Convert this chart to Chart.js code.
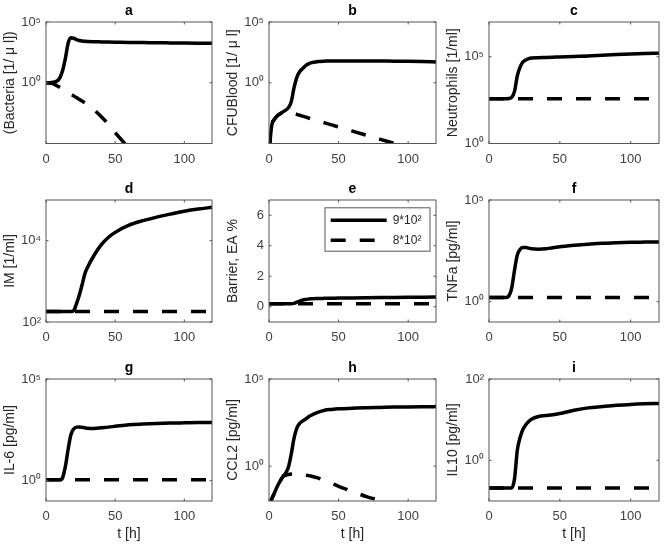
<!DOCTYPE html>
<html>
<head>
<meta charset="utf-8">
<script src="https://cdn.jsdelivr.net/npm/chart.js@4.4.0/dist/chart.umd.min.js"></script>
<style>
  html, body { margin: 0; padding: 0; background: #fff; }
  #figure { position: relative; width: 666px; height: 546px; }
  #figure canvas { position: absolute; }
</style>
</head>
<body>
<div id="figure">
  <canvas id="pa" width="222" height="178" style="left:0px;top:0px"></canvas>
  <canvas id="pb" width="222" height="178" style="left:223px;top:0px"></canvas>
  <canvas id="pc" width="222" height="178" style="left:443px;top:0px"></canvas>
  <canvas id="pd" width="222" height="178" style="left:0px;top:178px"></canvas>
  <canvas id="pe" width="222" height="178" style="left:223px;top:178px"></canvas>
  <canvas id="pf" width="222" height="178" style="left:443px;top:178px"></canvas>
  <canvas id="pg" width="222" height="189" style="left:0px;top:357px"></canvas>
  <canvas id="ph" width="222" height="189" style="left:223px;top:357px"></canvas>
  <canvas id="pi" width="222" height="189" style="left:443px;top:357px"></canvas>
</div>
<script>
// time points (hours)
const hours = [0, 2, 4, 6, 8, 10, 12, 14, 16, 18, 20, 22, 24, 26, 28, 30, 35, 40, 45, 50, 60, 70, 80, 90, 100, 110, 120];

const seriesLabels = ['9*10\u00b2', '8*10\u00b2'];

// a - bacteria
const bacteriaHigh = [1, 1, 1.05, 1.15, 1.4, 2.5, 10, 100, 1800, 5000, 4600, 3600, 3000, 2700, 2550, 2450, 2350, 2300, 2250, 2200, 2100, 2050, 1950, 1900, 1850, 1800, 1750];
const bacteriaLow = [1, 0.95, 0.89, 0.74, 0.56, 0.42, 0.30, 0.22, 0.16, 0.115, 0.083, 0.060, 0.044, 0.032, 0.023, 0.017, 5.6e-3, 1.6e-3, 4.0e-4, 7.9e-5, 4.0e-6, 2.0e-7, 1.0e-8, 5.0e-10, 2.5e-11, 1.3e-12, 6.3e-14];
// b - CFU blood
const cfuHigh = [2e-6, 3.2e-4, 1e-3, 1.9e-3, 2.8e-3, 4e-3, 5.6e-3, 8.9e-3, 0.028, 0.4, 2.8, 8, 14, 24, 34, 43, 55, 60, 63, 63, 63, 63, 61, 60, 58, 55, 51];
const cfuLow = [2e-6, 3.2e-4, 1e-3, 1.9e-3, 2.8e-3, 3.8e-3, 4.2e-3, 4e-3, 3.4e-3, 2.9e-3, 2.5e-3, 2.1e-3, 1.8e-3, 1.55e-3, 1.3e-3, 1.1e-3, 7.6e-4, 5e-4, 3.4e-4, 2.3e-4, 1.05e-4, 4.8e-5, 2.2e-5, 1e-5, 4.6e-6, 2.1e-6, 9.5e-7];
// c - neutrophils
const neutroHigh = [380, 380, 380, 380, 380, 380, 380, 390, 450, 1000, 8000, 2.6e4, 5e4, 6.5e4, 7.8e4, 8.5e4, 8.8e4, 9.1e4, 9.4e4, 9.7e4, 1.04e5, 1.1e5, 1.22e5, 1.35e5, 1.45e5, 1.53e5, 1.6e5];
const neutroLow = [380, 380, 380, 380, 380, 380, 380, 380, 380, 380, 380, 380, 380, 380, 380, 380, 380, 380, 380, 380, 380, 380, 380, 380, 380, 380, 380];
// d - IM
const imHigh = [180, 180, 180, 180, 180, 180, 180, 180, 180, 180, 190, 280, 450, 800, 1500, 2200, 4500, 8000, 1.2e4, 1.6e4, 2.4e4, 3.1e4, 3.8e4, 4.5e4, 5.3e4, 6e4, 6.6e4];
const imLow = [180, 180, 180, 180, 180, 180, 180, 180, 180, 180, 180, 180, 180, 180, 180, 180, 180, 180, 180, 180, 180, 180, 180, 180, 180, 180, 180];
// e - barrier
const barrierHigh = [0.2, 0.2, 0.2, 0.2, 0.2, 0.2, 0.2, 0.2, 0.2, 0.22, 0.3, 0.37, 0.43, 0.47, 0.5, 0.52, 0.54, 0.55, 0.56, 0.57, 0.58, 0.59, 0.6, 0.61, 0.62, 0.63, 0.64];
const barrierLow = [0.2, 0.2, 0.2, 0.2, 0.2, 0.2, 0.2, 0.2, 0.2, 0.2, 0.2, 0.2, 0.2, 0.2, 0.2, 0.2, 0.2, 0.2, 0.2, 0.2, 0.2, 0.2, 0.2, 0.2, 0.2, 0.2, 0.2];
// f - TNFa
const tnfHigh = [1.6, 1.6, 1.6, 1.6, 1.6, 1.6, 1.6, 1.9, 4.5, 35, 200, 380, 460, 460, 430, 400, 380, 400, 450, 500, 600, 670, 740, 790, 830, 850, 870];
const tnfLow = [1.6, 1.6, 1.6, 1.6, 1.6, 1.6, 1.6, 1.6, 1.6, 1.6, 1.6, 1.6, 1.6, 1.6, 1.6, 1.6, 1.6, 1.6, 1.6, 1.6, 1.6, 1.6, 1.6, 1.6, 1.6, 1.6, 1.6];
// g - IL-6
const il6High = [1.1, 1.1, 1.1, 1.1, 1.1, 1.1, 1.4, 5, 35, 180, 350, 430, 440, 420, 400, 380, 370, 400, 430, 470, 560, 610, 650, 680, 700, 720, 730];
const il6Low = [1.1, 1.1, 1.1, 1.1, 1.1, 1.1, 1.1, 1.1, 1.1, 1.1, 1.1, 1.1, 1.1, 1.1, 1.1, 1.1, 1.1, 1.1, 1.1, 1.1, 1.1, 1.1, 1.1, 1.1, 1.1, 1.1, 1.1];
// h - CCL2
const ccl2High = [4e-3, 0.013, 0.03, 0.07, 0.14, 0.25, 0.4, 0.9, 5, 40, 150, 280, 380, 480, 640, 800, 1200, 1600, 1800, 1950, 2100, 2250, 2350, 2450, 2500, 2550, 2600];
const ccl2Low = [4e-3, 0.013, 0.03, 0.07, 0.14, 0.25, 0.3, 0.33, 0.35, 0.36, 0.36, 0.35, 0.33, 0.31, 0.29, 0.27, 0.21, 0.15, 0.105, 0.07, 0.035, 0.018, 0.0105, 5.5e-3, 2.8e-3, 1.4e-3, 7e-4];
// i - IL10
const il10High = [0.21, 0.21, 0.21, 0.21, 0.21, 0.21, 0.21, 0.21, 0.21, 0.35, 1.8, 3.7, 5.8, 7.5, 9, 10.3, 12, 12.6, 13.2, 14.2, 17, 19.5, 21, 22.5, 23.7, 24.5, 25];
const il10Low = [0.21, 0.21, 0.21, 0.21, 0.21, 0.21, 0.21, 0.21, 0.21, 0.21, 0.21, 0.21, 0.21, 0.21, 0.21, 0.21, 0.21, 0.21, 0.21, 0.21, 0.21, 0.21, 0.21, 0.21, 0.21, 0.21, 0.21];

// tick labels
const xTicks = [0, 50, 100];
const logTicks05 = [1, 1e5];
const logTicks24 = [1e2, 1e4];
const logTicks02 = [1, 1e2];
const barrierTicks = [0, 2, 4, 6];

const panelLetters = ['a', 'b', 'c', 'd', 'e', 'f', 'g', 'h', 'i'];
const yLabels = ['(Bacteria [1/ \u03bc l])', 'CFUBlood [1/ \u03bc l]', 'Neutrophils [1/ml]', 'IM [1/ml]',
  'Barrier, EA %', 'TNFa [pg/ml]', 'IL-6 [pg/ml]', 'CCL2 [pg/ml]', 'IL10 [pg/ml]'];

const panels = [
  {id: 'pa', high: bacteriaHigh, low: bacteriaLow, log: true, min: 1e-5, max: 1e5, yTicks: logTicks05, xh: 34.5, pr: 10},
  {id: 'pb', high: cfuHigh, low: cfuLow, log: true, min: 1e-5, max: 1e5, yTicks: logTicks05, xh: 34.5, pr: 9},
  {id: 'pc', high: neutroHigh, low: neutroLow, log: true, min: 1, max: 1e7, yTicks: logTicks05, xh: 34.5, pr: 6},
  {id: 'pd', high: imHigh, low: imLow, log: true, min: 1e2, max: 1e5, yTicks: logTicks24, xh: 34, pr: 10},
  {id: 'pe', high: barrierHigh, low: barrierLow, log: false, min: -1, max: 7, yTicks: barrierTicks, xh: 34, pr: 9, legend: true},
  {id: 'pf', high: tnfHigh, low: tnfLow, log: true, min: 0.1, max: 1e5, yTicks: logTicks05, xh: 34, pr: 6},
  {id: 'pg', high: il6High, low: il6Low, log: true, min: 0.1, max: 1e5, yTicks: logTicks05, xh: 45, pr: 10, bottom: true},
  {id: 'ph', high: ccl2High, low: ccl2Low, log: true, min: 1e-2, max: 1e5, yTicks: logTicks05, xh: 45, pr: 9, bottom: true},
  {id: 'pi', high: il10High, low: il10Low, log: true, min: 0.1, max: 1e2, yTicks: logTicks02, xh: 45, pr: 6, bottom: true}
];

const SUP = {'0': '\u2070', '1': '\u00b9', '2': '\u00b2', '3': '\u00b3', '4': '\u2074', '5': '\u2075',
  '6': '\u2076', '7': '\u2077', '8': '\u2078', '9': '\u2079', '-': '\u207b'};
function powLabel(v) {
  const e = String(Math.round(Math.log10(v)));
  return '10' + e.split('').map(c => SUP[c]).join('');
}

Chart.defaults.font.family = '"Liberation Sans", Arial, Helvetica, sans-serif';
Chart.defaults.color = '#404040';

// box round the axes, inward tick marks, legend frame
const framePlugin = {
  id: 'frame',
  afterLayout(chart) {
    if (!chart.options.plugins.legend.display) return;
    const a = chart.chartArea;
    chart.legend.left = a.left + 53.7;
    chart.legend.top = a.top + 6.2;
  },
  afterDraw(chart) {
    const {ctx, chartArea: a, scales} = chart;
    ctx.save();
    ctx.strokeStyle = '#555';
    ctx.lineWidth = 1;
    ctx.setLineDash([]);
    ctx.strokeRect(a.left, a.top, a.right - a.left, a.bottom - a.top);
    ctx.beginPath();
    scales.x.ticks.forEach(t => {
      const px = scales.x.getPixelForValue(t.value);
      ctx.moveTo(px, a.bottom); ctx.lineTo(px, a.bottom - 2.5);
      ctx.moveTo(px, a.top); ctx.lineTo(px, a.top + 2.5);
    });
    scales.y.ticks.forEach(t => {
      const py = scales.y.getPixelForValue(t.value);
      ctx.moveTo(a.left, py); ctx.lineTo(a.left + 2.5, py);
      ctx.moveTo(a.right, py); ctx.lineTo(a.right - 2.5, py);
    });
    ctx.stroke();
    if (chart.options.plugins.legend.display) {
      const lg = chart.legend;
      ctx.strokeRect(lg.left + 2.3, lg.top + 1.6, 105, 43.4);
    }
    ctx.restore();
  }
};

// legend items with the dataset's own dash pattern
function lineLegendLabels(chart) {
  const items = Chart.defaults.plugins.legend.labels.generateLabels(chart);
  items.forEach((it, k) => {
    it.lineDash = chart.data.datasets[k].borderDash || [];
    it.lineWidth = chart.data.datasets[k].borderWidth;
    it.strokeStyle = chart.data.datasets[k].borderColor;
  });
  return items;
}

panels.forEach((p, i) => {
  const toPoints = arr => hours.map((t, k) => ({x: t, y: arr[k]}));
  new Chart(document.getElementById(p.id), {
    type: 'line',
    data: {
      datasets: [
        {label: seriesLabels[0], data: toPoints(p.high), borderColor: '#000', borderWidth: 3.5,
          pointRadius: 0, cubicInterpolationMode: 'monotone', clip: 0},
        {label: seriesLabels[1], data: toPoints(p.low), borderColor: '#000', borderWidth: 3.5,
          borderDash: [15, 14], pointRadius: 0, cubicInterpolationMode: 'monotone', clip: 0}
      ]
    },
    options: {
      responsive: false,
      devicePixelRatio: 1,
      animation: false,
      events: [],
      layout: {padding: {left: 0, right: p.pr, top: 0, bottom: 0}},
      scales: {
        x: {
          type: 'linear', min: 0, max: 120,
          afterBuildTicks: s => { s.ticks = xTicks.map(v => ({value: v})); },
          afterFit: s => { s.height = p.xh; },
          grid: {display: false, drawTicks: false},
          border: {display: false},
          ticks: {padding: 8, autoSkip: false, maxRotation: 0, font: {size: 13}, color: '#404040'},
          title: {display: !!p.bottom, text: 't [h]', font: {size: 14}, color: '#262626',
            padding: {top: 0, bottom: 3}}
        },
        y: {
          type: p.log ? 'logarithmic' : 'linear', min: p.min, max: p.max,
          afterBuildTicks: s => { s.ticks = p.yTicks.map(v => ({value: v})); },
          afterFit: s => { s.width = 46; },
          grid: {display: false, drawTicks: false},
          border: {display: false},
          ticks: {padding: 5, autoSkip: false, font: {size: 13}, color: '#404040',
            callback: v => p.log ? powLabel(v) : String(v)},
          title: {display: true, text: yLabels[i], font: {size: 14}, color: '#262626',
            padding: {top: 1.6, bottom: 0}}
        }
      },
      plugins: {
        title: {display: true, text: panelLetters[i], fullSize: false, color: '#000',
          font: {size: 14, weight: 'bold'}, padding: {top: 3, bottom: 2.2}},
        legend: {
          display: !!p.legend,
          position: 'chartArea',
          align: 'start',
          labels: {usePointStyle: true, pointStyle: 'line', pointStyleWidth: 56, padding: 8,
            font: {size: 12}, color: '#262626', generateLabels: lineLegendLabels}
        },
        tooltip: {enabled: false}
      }
    },
    plugins: [framePlugin]
  });
});
</script>
</body>
</html>
